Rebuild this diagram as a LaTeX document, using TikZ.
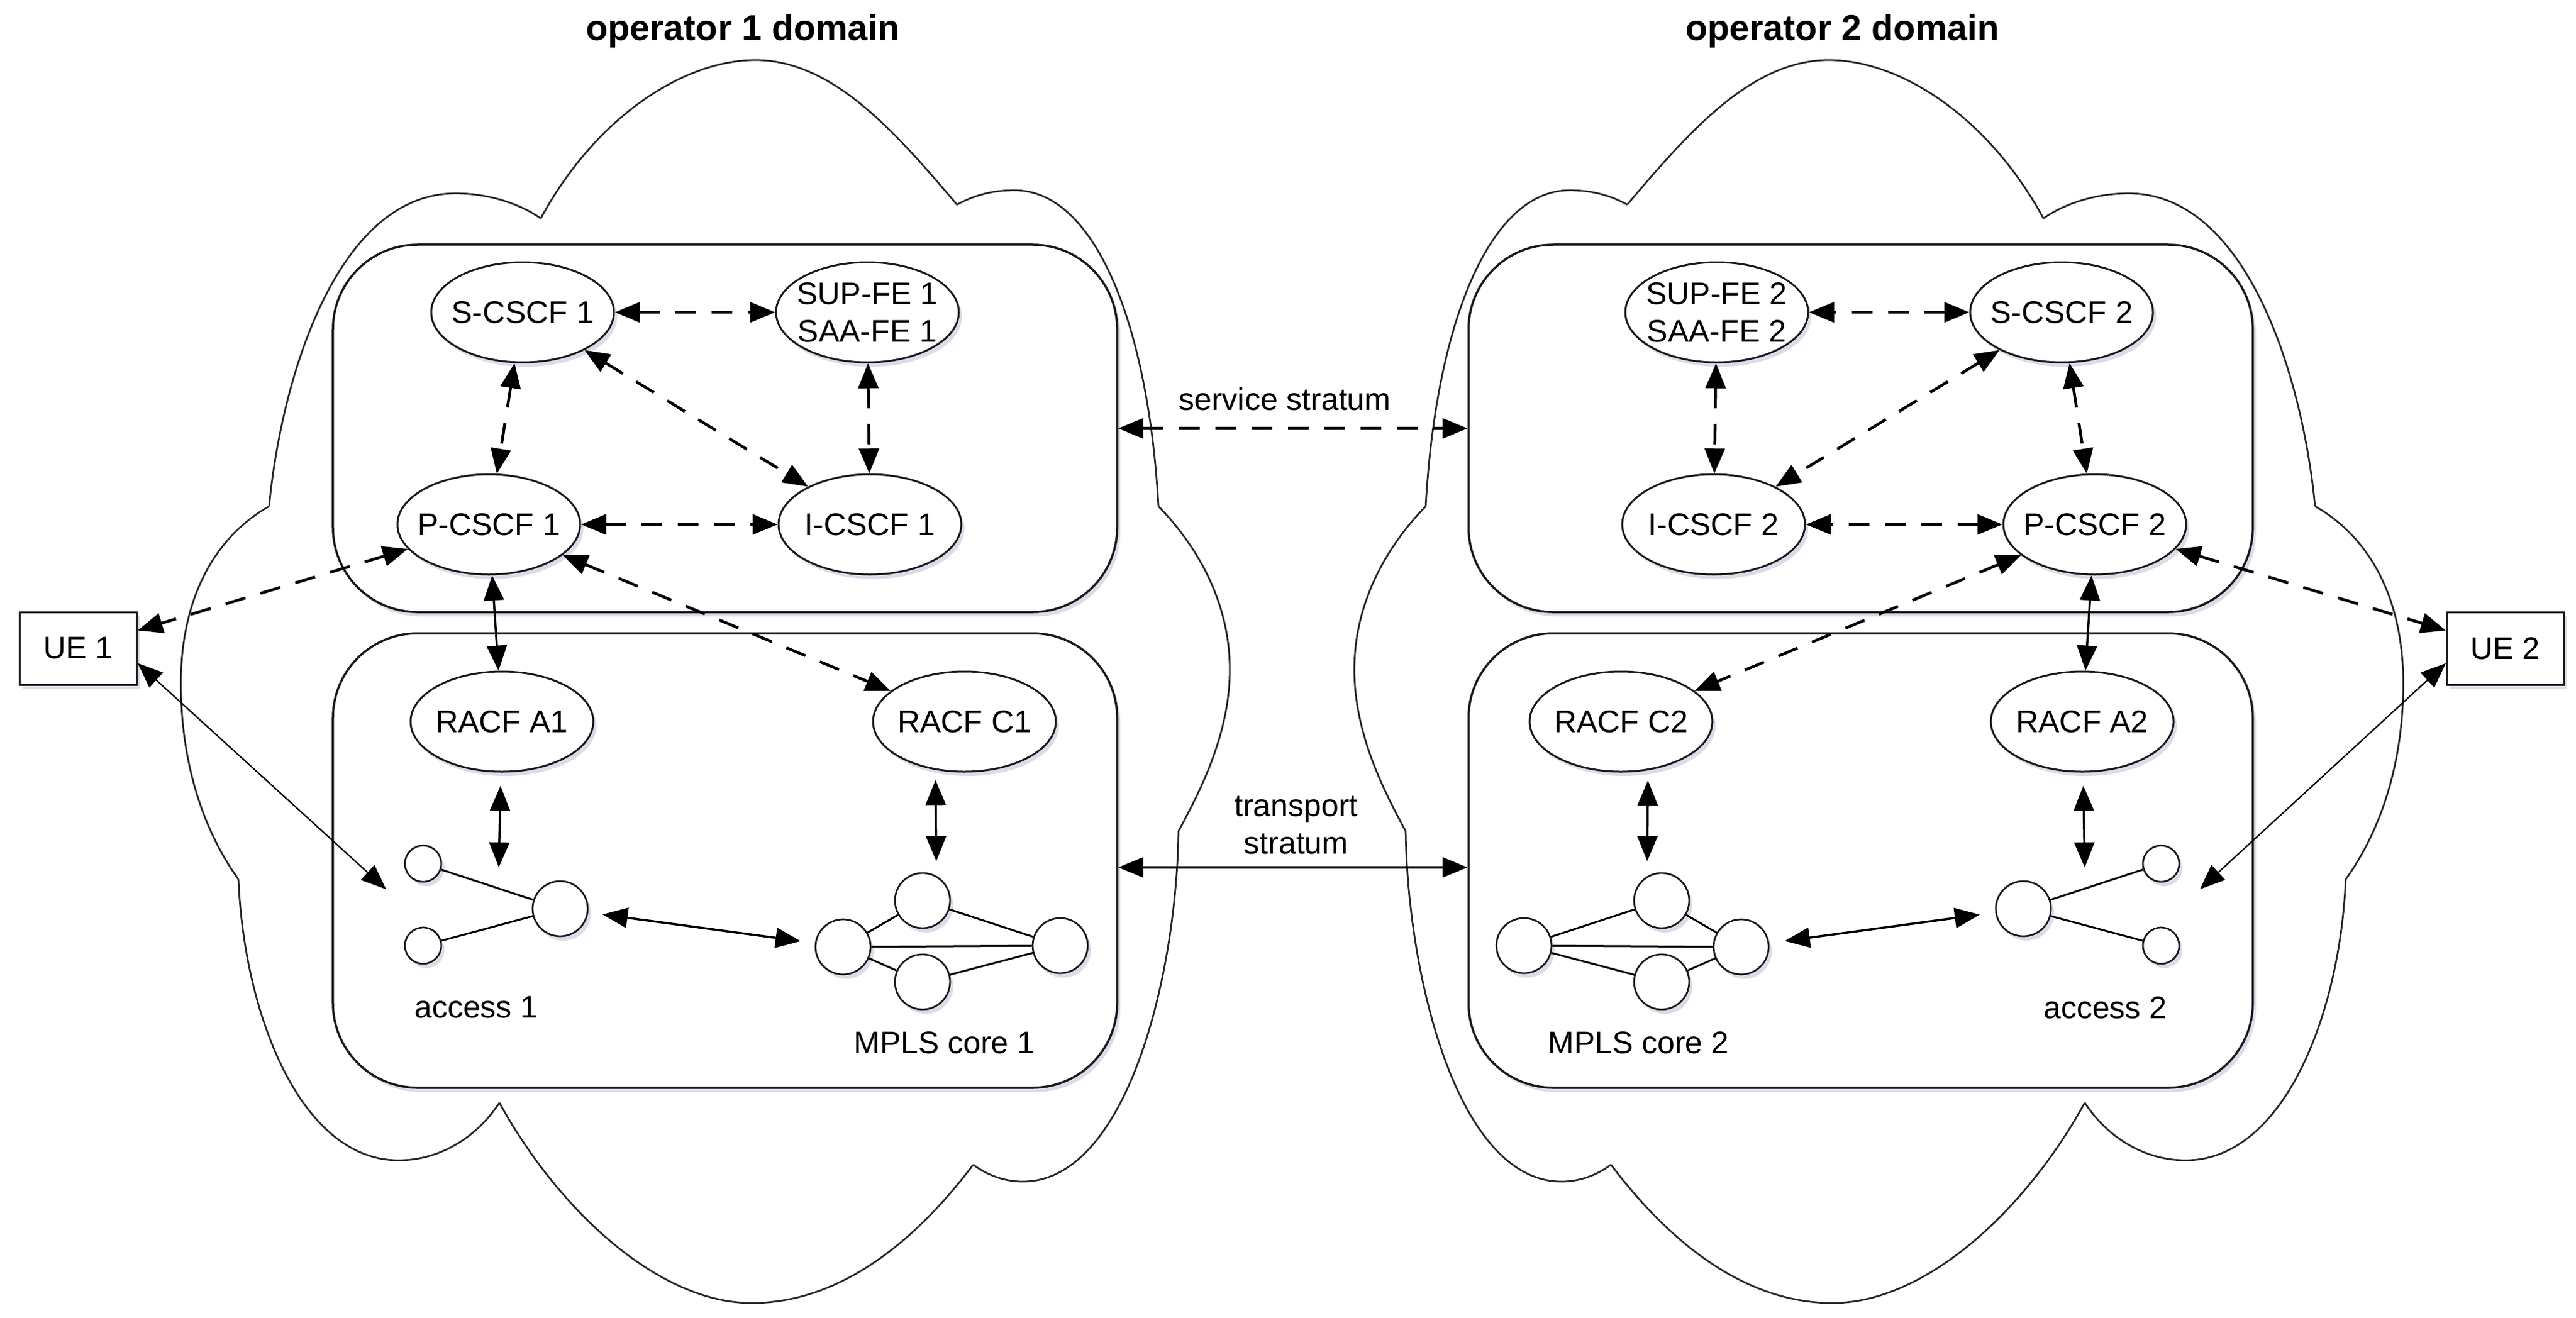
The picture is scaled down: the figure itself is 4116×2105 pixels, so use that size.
\documentclass[tikz,border=0pt]{standalone}
\usepackage{fontspec}
\setmainfont{Liberation Sans}
\usetikzlibrary{arrows.meta,shapes.geometric,shadows,calc}
\newcommand{\cloudlobes}{%
\draw[cloudline] (864,349) .. controls (950,190) and (1090,96) .. (1207,96) .. controls (1330,96) and (1430,210) .. (1529,327);
\draw[cloudline] (1529,327) .. controls (1560,310) and (1590,304) .. (1621,304) .. controls (1750,304) and (1835,520) .. (1851,809);
\draw[cloudline] (1851,809) .. controls (1920,880) and (1965,970) .. (1965,1070) .. controls (1965,1170) and (1920,1260) .. (1883,1328);
\draw[cloudline] (1883,1328) .. controls (1880,1560) and (1800,1888) .. (1634,1888) .. controls (1605,1888) and (1578,1878) .. (1555,1861);
\draw[cloudline] (1555,1861) .. controls (1450,2000) and (1330,2082) .. (1201,2082) .. controls (1050,2082) and (890,1930) .. (798,1762);
\draw[cloudline] (798,1762) .. controls (760,1820) and (700,1854) .. (637,1854) .. controls (480,1854) and (390,1620) .. (381,1405);
\draw[cloudline] (381,1405) .. controls (320,1320) and (289,1210) .. (289,1092) .. controls (289,960) and (340,860) .. (430,809);
\draw[cloudline] (430,809) .. controls (450,600) and (540,309) .. (728,309) .. controls (780,309) and (830,325) .. (864,349);
}
\tikzset{
  softshadow/.style={drop shadow={shadow xshift=1pt,shadow yshift=-1.4pt,opacity=.22,fill=blue!25!gray}},
  cloudline/.style={draw=black!85,line width=.55pt},
  stratumbox/.style={draw=black!90,fill=white,line width=.7pt,rounded corners=27pt,minimum width=250.6pt,softshadow,inner sep=0pt},
  fe/.style={ellipse,draw=black!90,fill=white,line width=.6pt,minimum width=58.4pt,minimum height=32pt,inner sep=-6pt,align=center,softshadow,font=\fontsize{10}{12}\selectfont},
  uebox/.style={rectangle,draw=black!90,fill=white,line width=.6pt,minimum width=37.4pt,minimum height=23.2pt,inner sep=0pt,softshadow,font=\fontsize{10}{12}\selectfont},
  smallc/.style={circle,draw=black!90,fill=white,line width=.55pt,minimum size=11.6pt,inner sep=0pt,softshadow},
  bigc/.style={circle,draw=black!90,fill=white,line width=.55pt,minimum size=17.6pt,inner sep=0pt,softshadow},
  lbl/.style={align=center,inner sep=0pt,font=\fontsize{10}{12}\selectfont},
  ttl/.style={inner sep=0pt,font=\fontsize{11.5}{14}\selectfont\bfseries},
  dlink/.style={draw=black,line width=.9pt,dash pattern=on 6.6pt off 5pt,{Triangle[length=8pt,width=6.4pt]}-{Triangle[length=8pt,width=6.4pt]}},
  slink/.style={draw=black,line width=.7pt,{Triangle[length=8pt,width=6.4pt]}-{Triangle[length=8pt,width=6.4pt]}},
  uelink/.style={draw=black,line width=.45pt,{Triangle[length=8pt,width=6.4pt]}-{Triangle[length=8pt,width=6.4pt]}},
  plain/.style={draw=black,line width=.6pt},
}
\begin{document}
\begin{tikzpicture}[x=0.2pt,y=-0.2pt]
\useasboundingbox (0,0) rectangle (4116,2105);
\fill[white] (0,0) rectangle (4116,2105);
% clouds
\cloudlobes
\begin{scope}[shift={(4129,0)},xscale=-1]
\cloudlobes
\end{scope}
% titles
\node[ttl] (t1) at (1187,50) {operator 1 domain};
\node[ttl] (t2) at (2944,50) {operator 2 domain};
% stratum boxes
\node[stratumbox,minimum height=117.4pt] (sv1) at (1158.5,684.5) {};
\node[stratumbox,minimum height=145.2pt] (tr1) at (1158.5,1375) {};
\node[stratumbox,minimum height=117.4pt] (sv2) at (2973,684.5) {};
\node[stratumbox,minimum height=145.2pt] (tr2) at (2973,1375) {};
% UEs
\node[uebox] (ue1) at (125,1036) {UE 1};
\node[uebox] (ue2) at (4003,1036) {UE 2};
% domain 1
\node[fe] (s1) at (835,499) {S-CSCF 1};
\node[fe] (sup1) at (1386,499) {SUP-FE 1\\SAA-FE 1};
\node[fe] (p1) at (781,838) {P-CSCF 1};
\node[fe] (i1) at (1390,838) {I-CSCF 1};
\node[fe] (ra1) at (802,1153) {RACF A1};
\node[fe] (rc1) at (1541,1153) {RACF C1};
% domain 2
\node[fe] (sup2) at (2743,499) {SUP-FE 2\\SAA-FE 2};
\node[fe] (s2) at (3294,499) {S-CSCF 2};
\node[fe] (i2) at (2738,838) {I-CSCF 2};
\node[fe] (p2) at (3347,838) {P-CSCF 2};
\node[fe] (rc2) at (2590,1153) {RACF C2};
\node[fe] (ra2) at (3327,1153) {RACF A2};
% access 1
\node[smallc] (a1u) at (676,1380) {};
\node[smallc] (a1d) at (676,1511) {};
\node[bigc] (a1g) at (895,1452) {};
% mpls 1
\node[bigc] (m1l) at (1347,1513) {};
\node[bigc] (m1t) at (1474,1439) {};
\node[bigc] (m1b) at (1474,1569) {};
\node[bigc] (m1r) at (1694,1511) {};
% access 2
\node[smallc] (a2u) at (3453,1380) {};
\node[smallc] (a2d) at (3453,1511) {};
\node[bigc] (a2g) at (3233,1452) {};
% mpls 2
\node[bigc] (m2l) at (2435,1511) {};
\node[bigc] (m2t) at (2655,1439) {};
\node[bigc] (m2b) at (2655,1569) {};
\node[bigc] (m2r) at (2782,1513) {};
% labels
\node[lbl] (lsv) at (2053,638) {service stratum};
\node[lbl] (ltr) at (2071,1319) {transport\\stratum};
\node[lbl] (la1) at (761,1610) {access 1};
\node[lbl] (lm1) at (1509,1666) {MPLS core 1};
\node[lbl] (la2) at (3364,1610) {access 2};
\node[lbl] (lm2) at (2618,1666) {MPLS core 2};
% free ends
\coordinate (a1in) at (617,1421);
\coordinate (a2in) at (3515,1421);
\coordinate (a1top) at (797,1386);
\coordinate (c1top) at (1496,1376);
\coordinate (a2top) at (3331,1386);
\coordinate (c2top) at (2632,1376);
% inner links
\draw[plain] (a1u) -- (a1g);
\draw[plain] (a1d) -- (a1g);
\draw[plain] (a2u) -- (a2g);
\draw[plain] (a2d) -- (a2g);
\draw[plain] (m1l) -- (m1t);
\draw[plain] (m1l) -- (m1b);
\draw[plain] (m1l) -- (m1r);
\draw[plain] (m1t) -- (m1r);
\draw[plain] (m1b) -- (m1r);
\draw[plain] (m2l) -- (m2t);
\draw[plain] (m2l) -- (m2b);
\draw[plain] (m2l) -- (m2r);
\draw[plain] (m2t) -- (m2r);
\draw[plain] (m2b) -- (m2r);
% dashed, domain 1
\draw[dlink] (s1) -- (sup1);
\draw[dlink] (s1) -- (p1);
\draw[dlink] (s1) -- (i1);
\draw[dlink] (sup1) -- (i1);
\draw[dlink] (p1) -- (i1);
\draw[dlink] (p1) -- (ue1);
\draw[dlink] (p1) -- (rc1);
\draw[slink] (p1) -- (ra1);
% dashed, domain 2
\draw[dlink] (s2) -- (sup2);
\draw[dlink] (s2) -- (p2);
\draw[dlink] (s2) -- (i2);
\draw[dlink] (sup2) -- (i2);
\draw[dlink] (p2) -- (i2);
\draw[dlink] (p2) -- (ue2);
\draw[dlink] (p2) -- (rc2);
\draw[slink] (p2) -- (ra2);
% between domains
\draw[dlink] (sv1) -- (sv2);
\draw[slink] (tr1.-1) -- (tr2.181);
% transport
\draw[uelink] (ue1.-14) -- (a1in);
\draw[uelink] (ue2.194) -- (a2in);
\draw[slink,shorten <=4.2pt] (ra1) -- (a1top);
\draw[slink,shorten <=4.2pt] (ra2) -- (a2top);
\draw[slink,shorten <=3.2pt] (rc1.239) -- (c1top);
\draw[slink,shorten <=3.2pt] (rc2.-61) -- (c2top);
\draw[slink,shorten <=4.6pt,shorten >=4.6pt] (a1g) -- (m1l);
\draw[slink,shorten <=5pt,shorten >=5pt] (m2r) -- (a2g);
\end{tikzpicture}
\end{document}
